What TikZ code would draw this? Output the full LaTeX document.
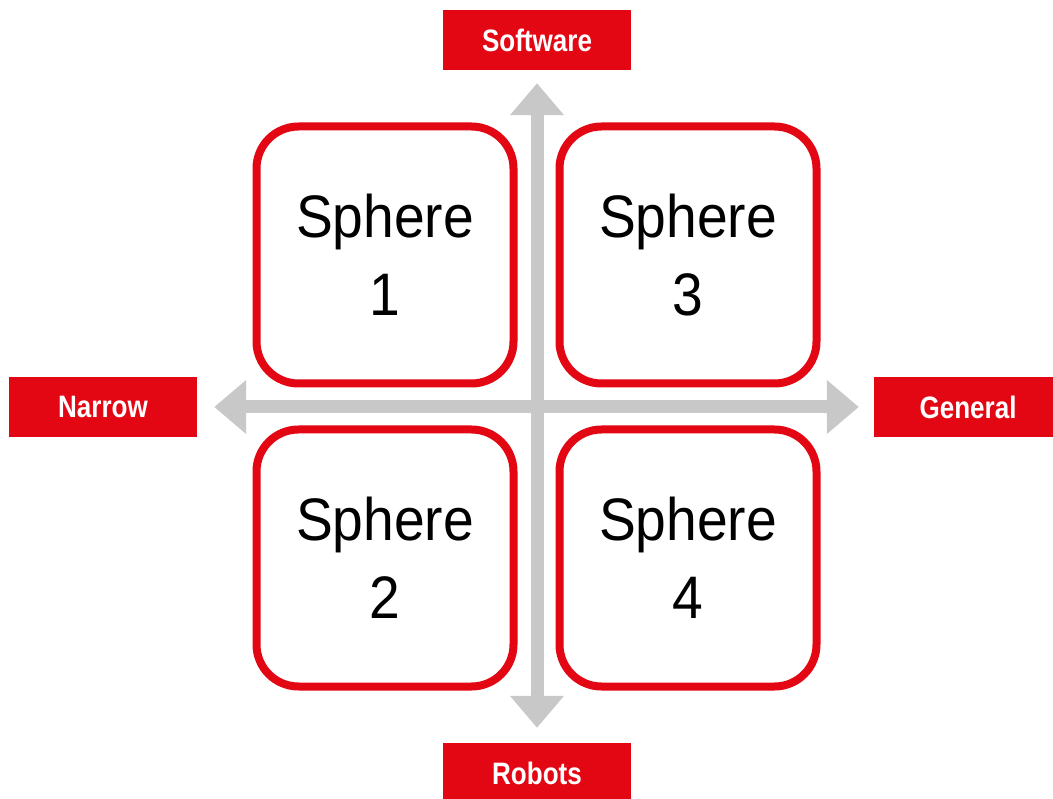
\documentclass[tikz,border=0pt]{standalone}
\usepackage{fontspec}
\setmainfont{Liberation Sans}
\newfontfamily\tagfont[FakeStretch=0.84]{Liberation Sans}
\newfontfamily\spherefont[FakeStretch=0.92]{Liberation Sans}
\usetikzlibrary{arrows.meta,shadows}
\definecolor{spred}{HTML}{E30613}
\definecolor{axisgrey}{HTML}{C8C8C8}
\tikzset{
  tag/.style={fill=spred,text=white,minimum width=188pt,minimum height=60pt,inner sep=0pt,font=\tagfont\bfseries\fontsize{31}{36}\selectfont},
  sphere/.style={draw=spred,fill=white,line width=8pt,rounded corners=42pt,minimum size=257pt,align=center,
    font=\spherefont\fontsize{60}{78}\selectfont,
    drop shadow={shadow xshift=2pt,shadow yshift=-3pt,opacity=0.35,fill=black!60}},
  axis/.style={axisgrey,line width=13pt,{Triangle[length=32pt,width=52pt]}-{Triangle[length=32pt,width=52pt]}}
}
\begin{document}
\begin{tikzpicture}[x=1pt,y=-1pt]
\fill[white] (0,0) rectangle (1053,799);
\useasboundingbox (0,0) rectangle (1053,799);
\foreach \x/\y/\n/\t in {537/40/software/Software, 103/407/narrow/Narrow, 968/407/general/General, 537/773/robots/Robots}
  \node[tag] (\n) at (\x,\y) {\t};
\draw[axis,shorten <=17pt,shorten >=15pt] (narrow) -- (general);
\draw[axis,shorten <=13pt,shorten >=15pt] (software) -- (robots);
\foreach \x/\y/\n/\t in {385/255/s1/1, 385/558/s2/2, 688/255/s3/3, 688/558/s4/4}
  \node[sphere] (\n) at (\x,\y) {Sphere\\\t};
\end{tikzpicture}
\end{document}
